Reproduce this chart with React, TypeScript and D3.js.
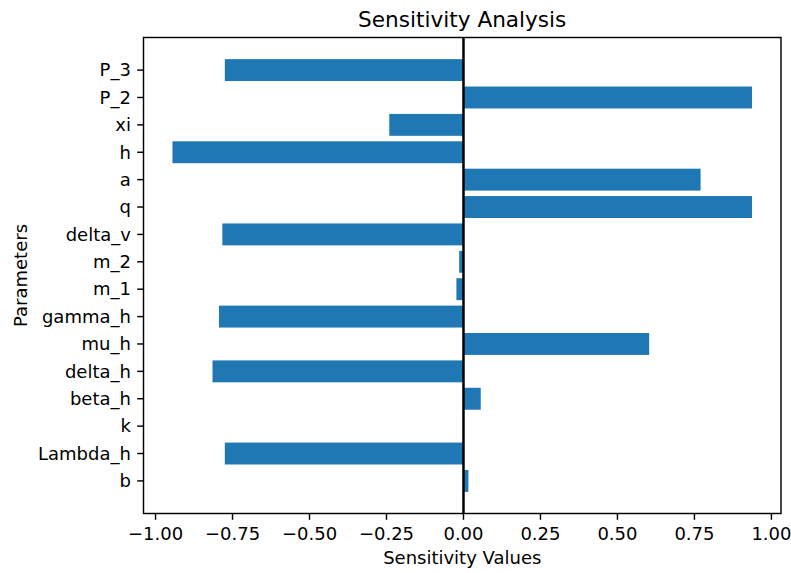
import React from "react";
import * as d3 from "d3";

const parameters = ["b", "Lambda_h", "k", "beta_h", "delta_h", "mu_h", "gamma_h", "m_1", "m_2", "delta_v", "q", "a", "h", "xi", "P_2", "P_3"];
const sensitivity = [0.016, -0.775, 0.0, 0.056, -0.815, 0.603, -0.794, -0.023, -0.014, -0.783, 0.937, 0.770, -0.945, -0.241, 0.937, -0.775];
const xTicks = [-1.0, -0.75, -0.5, -0.25, 0.0, 0.25, 0.5, 0.75, 1.0];

const W = 791;
const H = 573;
const M = { left: 143.5, right: 781, top: 37.5, bottom: 513.5 };
const FONT = "DejaVu Sans, sans-serif";
const PT = 1.8;

export default function App() {
  const vmin = Math.min(0, d3.min(sensitivity)!);
  const vmax = Math.max(0, d3.max(sensitivity)!);
  const xm = (vmax - vmin) * 0.05;
  const x = d3.scaleLinear().domain([vmin - xm, vmax + xm]).range([M.left, M.right]);
  const n = parameters.length;
  const ylo = -0.4, yhi = n - 1 + 0.4;
  const ym = (yhi - ylo) * 0.05;
  const y = d3.scaleLinear().domain([ylo - ym, yhi + ym]).range([M.bottom, M.top]);
  const fmt = d3.format(".2f");
  const tl = 3.5 * PT;
  const pad = 3.5 * PT;
  const fs = 10 * PT;
  const lw = 0.8 * PT;

  return (
    <svg width={W} height={H} style={{ position: "absolute", left: 0, top: 0, background: "#fff" }} fontFamily={FONT}>
      <rect x={0} y={0} width={W} height={H} fill="#fff" />
      {sensitivity.map((v, i) => {
        const x0 = x(Math.min(0, v));
        const x1 = x(Math.max(0, v));
        return (
          <rect key={i} x={x0} y={y(i + 0.4)} width={x1 - x0} height={y(i - 0.4) - y(i + 0.4)} fill="#1f77b4" />
        );
      })}
      <line x1={x(0)} x2={x(0)} y1={M.top} y2={M.bottom} stroke="#000" strokeWidth={2.5} />
      <rect x={M.left} y={M.top} width={M.right - M.left} height={M.bottom - M.top} fill="none" stroke="#000" strokeWidth={lw} />
      {xTicks.map((t) => (
        <g key={t}>
          <line x1={x(t)} x2={x(t)} y1={M.bottom} y2={M.bottom + tl} stroke="#000" strokeWidth={lw} />
          <text x={x(t)} y={M.bottom + tl + pad + 14} textAnchor="middle" fontSize={fs} fill="#000">
            {fmt(t).replace("-", "\u2212")}
          </text>
        </g>
      ))}
      {parameters.map((p, i) => (
        <g key={p}>
          <line x1={M.left - tl} x2={M.left} y1={y(i)} y2={y(i)} stroke="#000" strokeWidth={lw} />
          <text x={M.left - tl - pad} y={y(i)} dy="0.35em" textAnchor="end" fontSize={fs} fill="#000">
            {p}
          </text>
        </g>
      ))}
      <text x={(M.left + M.right) / 2} y={M.top - 6 * PT} textAnchor="middle" fontSize={12 * PT} fill="#000">
        Sensitivity Analysis
      </text>
      <text x={(M.left + M.right) / 2} y={564} textAnchor="middle" fontSize={fs} fill="#000">
        Sensitivity Values
      </text>
      <text transform={`translate(27, ${(M.top + M.bottom) / 2}) rotate(-90)`} textAnchor="middle" fontSize={fs} fill="#000">
        Parameters
      </text>
    </svg>
  );
}
